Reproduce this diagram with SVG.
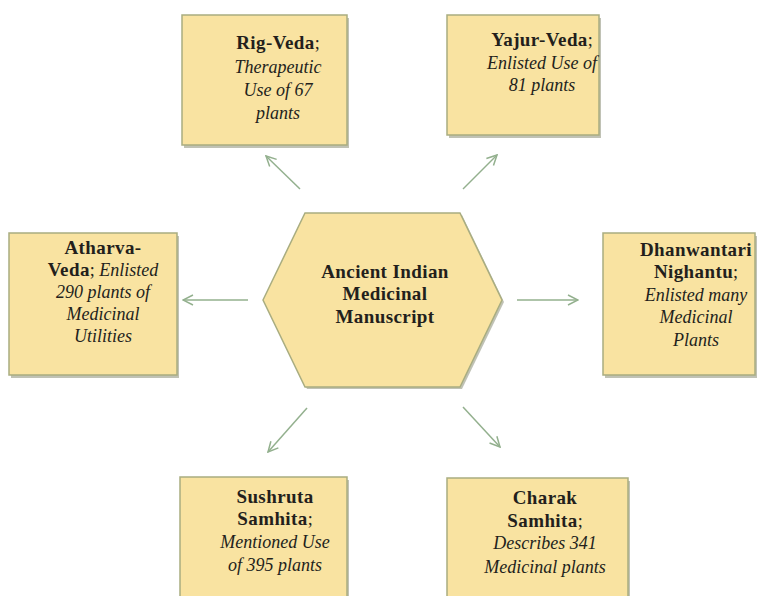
<svg xmlns="http://www.w3.org/2000/svg" width="758" height="596" viewBox="0 0 758 596">
<style>
.box{fill:#f9e3a1;stroke:#a9ad80;stroke-width:1.5}
.sh{fill:#8c8f78;opacity:0.55}
.t{font-family:'Liberation Serif','Times New Roman',serif;font-size:18px;fill:#231f1c;text-anchor:middle}
.b{font-weight:bold;font-size:19px;letter-spacing:0.4px}
.i{font-style:italic}
.c{stroke:#93b08e;stroke-width:1.5;fill:none}
</style>
<defs>
<marker id="ah" viewBox="0 0 12 12" refX="11" refY="6" markerWidth="12" markerHeight="12" markerUnits="userSpaceOnUse" orient="auto">
<path d="M1,1 L11,6 L1,11" fill="none" stroke="#93b08e" stroke-width="1.5"/>
</marker>
</defs>
<rect width="758" height="596" fill="#ffffff"/>
<g id="connectors">
<line class="c" x1="300" y1="189" x2="266" y2="156" marker-end="url(#ah)"/>
<line class="c" x1="463" y1="189" x2="497" y2="155" marker-end="url(#ah)"/>
<line class="c" x1="248" y1="300" x2="183" y2="300" marker-end="url(#ah)"/>
<line class="c" x1="517" y1="300" x2="578" y2="300" marker-end="url(#ah)"/>
<line class="c" x1="307" y1="408" x2="268" y2="452" marker-end="url(#ah)"/>
<line class="c" x1="463" y1="407" x2="500" y2="447" marker-end="url(#ah)"/>
</g>
<g id="center">
<polygon class="sh" points="265,302 307,215 462,215 504,302 462,389 307,389"/>
<polygon class="box" points="263,300 305,213 460,213 502,300 460,387 305,387"/>
<text class="t b" x="385" y="278">Ancient Indian</text>
<text class="t b" x="385" y="300">Medicinal</text>
<text class="t b" x="385" y="323">Manuscript</text>
</g>
<g id="rig-veda">
<rect class="sh" x="184" y="18" width="165" height="130"/>
<rect class="box" x="182" y="15" width="165" height="130"/>
<text class="t" x="278" y="49"><tspan class="b">Rig-Veda</tspan>;</text>
<text class="t i" x="278" y="73">Therapeutic</text>
<text class="t i" x="278" y="96">Use of 67</text>
<text class="t i" x="278" y="119">plants</text>
</g>
<g id="yajur-veda">
<rect class="sh" x="449" y="18" width="152" height="120"/>
<rect class="box" x="447" y="15" width="152" height="120"/>
<text class="t" x="542" y="46"><tspan class="b">Yajur-Veda</tspan>;</text>
<text class="t i" x="542" y="69">Enlisted Use of</text>
<text class="t i" x="542" y="91">81 plants</text>
</g>
<g id="atharva-veda">
<rect class="sh" x="11" y="236" width="168" height="142"/>
<rect class="box" x="9" y="233" width="168" height="142"/>
<text class="t b" x="103" y="254">Atharva-</text>
<text class="t" x="103" y="276"><tspan class="b">Veda</tspan>; <tspan class="i">Enlisted</tspan></text>
<text class="t i" x="103" y="298">290 plants of</text>
<text class="t i" x="103" y="320">Medicinal</text>
<text class="t i" x="103" y="342">Utilities</text>
</g>
<g id="dhanwantari">
<rect class="sh" x="605" y="236" width="152" height="142"/>
<rect class="box" x="603" y="233" width="152" height="142"/>
<text class="t b" x="696" y="256">Dhanwantari</text>
<text class="t" x="696" y="278"><tspan class="b">Nighantu</tspan>;</text>
<text class="t i" x="696" y="301">Enlisted many</text>
<text class="t i" x="696" y="323">Medicinal</text>
<text class="t i" x="696" y="346">Plants</text>
</g>
<g id="sushruta">
<rect class="sh" x="182" y="480" width="167" height="130"/>
<rect class="box" x="180" y="477" width="167" height="130"/>
<text class="t b" x="275" y="503">Sushruta</text>
<text class="t" x="275" y="525"><tspan class="b">Samhita</tspan>;</text>
<text class="t i" x="275" y="548">Mentioned Use</text>
<text class="t i" x="275" y="571">of 395 plants</text>
</g>
<g id="charak">
<rect class="sh" x="449" y="481" width="181" height="130"/>
<rect class="box" x="447" y="478" width="181" height="130"/>
<text class="t b" x="545" y="504">Charak</text>
<text class="t" x="545" y="527"><tspan class="b">Samhita</tspan>;</text>
<text class="t i" x="545" y="549">Describes 341</text>
<text class="t i" x="545" y="573">Medicinal plants</text>
</g>
</svg>
